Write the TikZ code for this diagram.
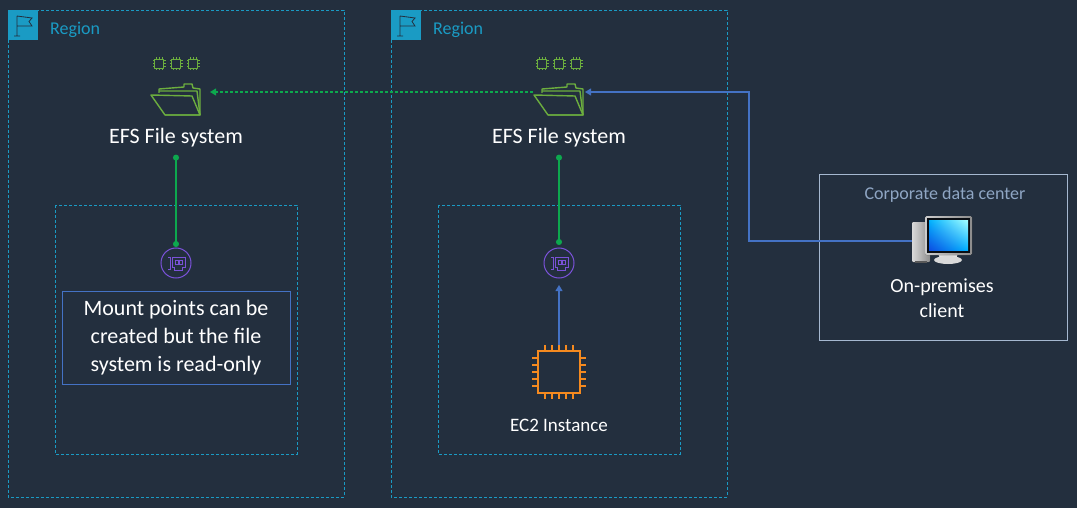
\documentclass[tikz,border=0pt]{standalone}
\usepackage{fontspec}
\setmainfont{Carlito}
\usetikzlibrary{arrows.meta, positioning, shadings}
\definecolor{slate}{HTML}{232F3E}
\definecolor{regionteal}{HTML}{1A9BC4}
\definecolor{efsgreen}{HTML}{6CAE3E}
\definecolor{linkgreen}{HTML}{0DA84E}
\definecolor{linkblue}{HTML}{4472C4}
\definecolor{enipurple}{HTML}{7A52D8}
\definecolor{chiporange}{HTML}{F58A1F}
\definecolor{corpgrey}{HTML}{8FA6C4}
\tikzset{
  region/.style = {draw=regionteal, densely dashed, line width=0.8pt},
  subnet/.style = {draw=regionteal, densely dashed, line width=0.8pt},
  corporate/.style = {draw=corpgrey!80!white, line width=0.9pt},
  notebox/.style = {draw=linkblue, line width=1pt, align=center, text=white,
                    font=\fontsize{22}{28}\selectfont, minimum width=228pt,
                    minimum height=93pt, inner sep=0pt},
  label/.style = {text=white, inner sep=0pt, align=center},
  regionlabel/.style = {text=regionteal, inner sep=0pt, anchor=west,
                        font=\fontsize{18}{20}\selectfont},
  anchorbox/.style = {inner sep=0pt, outer sep=0pt},
  replica/.style = {linkgreen, densely dashed, line width=1.2pt, arrows={-Triangle[]}},
  mount/.style = {linkgreen, line width=1.2pt, arrows={Circle[length=6pt]-Circle[length=6pt]}},
  link/.style = {linkblue, line width=1.2pt, arrows={-Triangle[]}},
  efsline/.style = {draw=efsgreen, line width=1.4pt, line join=round},
}
\newcommand{\flagicon}[1]{%
  %% Region flag in its square, top left corner at the argument
  \begin{scope}[shift={(#1)}]
    \fill [regionteal] (0,0) rectangle (30,30);
    \draw [slate, line width=0.8pt] (9,6) -- (9,26) (6,26) -- (12,26)
      (9,6) -- (24,8) -- (21,11.5) -- (24,16) -- (9,16);
  \end{scope}
}
\newcommand{\efsicon}[1]{%
  %% EFS folder with its three chips, folder centre at the argument
  \begin{scope}[shift={(#1)}]
    \foreach \c in {-17,0,17}{%
      \draw [efsline] (\c-4.5,-23.5) rectangle ++(9,-9);
      \foreach \p in {-3,0,3}{%
        \draw [efsgreen, line width=1pt] (\c+\p,-32.5) -- ++(0,-2) (\c+\p,-23.5) -- ++(0,2)
          (\c-4.5,-28+\p) -- ++(-2,0) (\c+4.5,-28+\p) -- ++(2,0);
      }
    }
    \draw [efsline] (-17,1) -- (-17,-3) -- (8,-5) -- (8,-8) -- (16,-8) -- (17,-4) -- (24,-3) -- (24,23) -- (-11,23);
    \draw [efsline] (-25,3) -- (-11,23) -- (24,23) -- (16,4) -- cycle;
    \draw [efsline] (-17,-1) -- (21,-1) -- (24,23);
  \end{scope}
}
\newcommand{\eniicon}[1]{%
  %% Network interface in a circle, centre at the argument
  \begin{scope}[shift={(#1)}]
    \draw [enipurple, line width=1pt] (0,0) circle (15);
    \draw [enipurple, line width=0.9pt] (-8,-6) -- (-6,-6) -- (-6,6) -- (-8,6)
      (-4,-6) -- (9,-6) -- (9,4) -- (6,4) -- (6,7) -- (-2,7) -- (-2,4) -- (-4,4) -- cycle
      (-1,-3) rectangle (2,1) (3,-3) rectangle (6,1);
  \end{scope}
}
\newcommand{\chipicon}[1]{%
  %% EC2 chip, centre at the argument
  \begin{scope}[shift={(#1)}]
    \draw [chiporange, line width=2pt] (-21,-21) rectangle (21,21);
    \foreach \p in {-14,-7,0,7,14}{%
      \draw [chiporange, line width=2pt] (\p,-21) -- (\p,-27) (\p,21) -- (\p,27)
        (-21,\p) -- (-27,\p) (21,\p) -- (27,\p);
    }
  \end{scope}
}
\newcommand{\clienticon}[1]{%
  %% Desktop computer, top left of the tower at the argument
  \begin{scope}[shift={(#1)}]
    \fill [left color=white!85!black, right color=white!55!black, rounded corners=1pt] (0,0) rectangle (18,40);
    \fill [gray!70!black] (3,39) rectangle (15,41);
    \fill [white!90!black] (26,31) -- (46,31) -- (44,37) -- (28,37) -- cycle;
    \fill [white!85!black] (36,38) ellipse (14 and 4);
    \fill [left color=white!80!black, right color=white!55!black, rounded corners=1.5pt] (13,-6) rectangle (60,33);
    \fill [slate!30!black] (15,-4) rectangle (58,31);
    \shade [lower left=regionteal!50!blue, upper left=cyan!70!blue, upper right=cyan!35!white, lower right=cyan!70!blue] (17,-2) rectangle (56,28);
  \end{scope}
}

\begin{document}
\begin{tikzpicture}[x=1pt, y=-1pt]
  \useasboundingbox (0,0) rectangle (1077,508);
  \fill [slate] (0,0) rectangle (1077,508);

  %% Regions and subnets
  \draw [region] (8,10) rectangle (344,497);
  \draw [region] (391,10) rectangle (727,497);
  \draw [subnet] (55,205) rectangle (297,454);
  \draw [subnet] (438,205) rectangle (680,454);
  \draw [corporate] (819,174) rectangle (1067,340);
  \flagicon{8,10}
  \flagicon{391,10}
  \node [regionlabel] (regionA) at (50,30) {Region};
  \node [regionlabel] (regionB) at (433,30) {Region};

  %% Icons
  \efsicon{176,92}
  \efsicon{559,92}
  \eniicon{176,263}
  \eniicon{559,263}
  \chipicon{559,372}
  \clienticon{912,222}

  %% Named places on the icons
  \node [anchorbox, minimum width=68pt, minimum height=10pt] (efsA) at (176,92) {};
  \node [anchorbox, minimum width=52pt, minimum height=10pt] (efsB) at (559,92) {};
  \node [anchorbox, minimum size=32pt, circle] (eniA) at (176,263) {};
  \node [anchorbox, minimum size=44pt, circle] (eniB) at (559,263) {};
  \node [anchorbox, minimum width=54pt, minimum height=54pt] (chip) at (559,372) {};
  \node [anchorbox, minimum width=60pt, minimum height=40pt] (client) at (942,241) {};

  %% Labels
  \node [label, font=\fontsize{22}{24}\selectfont] (efsAlabel) at (176,138) {EFS File system};
  \node [label, font=\fontsize{22}{24}\selectfont] (efsBlabel) at (559,138) {EFS File system};
  \node [notebox] (note) at (176,337.5) {Mount points can be\\created but the file\\system is read-only};
  \node [label, font=\fontsize{19}{24}\selectfont] (ec2label) at (559,425) {EC2 Instance};
  \node [label, text=corpgrey, font=\fontsize{18}{20}\selectfont] (corplabel) at (945,195) {Corporate data center};
  \node [label, font=\fontsize{20}{25}\selectfont] (clientlabel) at (942,298.5) {On-premises\\client};

  %% Connectors
  \draw [replica] (efsB.west) -- (efsA.east);
  \draw [link] (client.west) -| (749,92) -- (efsB.east);
  \draw [mount] (efsAlabel.south) ++(0,7) coordinate (topA) -- (eniA.north);
  \draw [mount] (efsBlabel.south) ++(0,7) coordinate (topB) -- ([yshift=-4pt] eniB.north);
  \draw [link] (chip.north) -- (eniB.south);
\end{tikzpicture}
\end{document}
